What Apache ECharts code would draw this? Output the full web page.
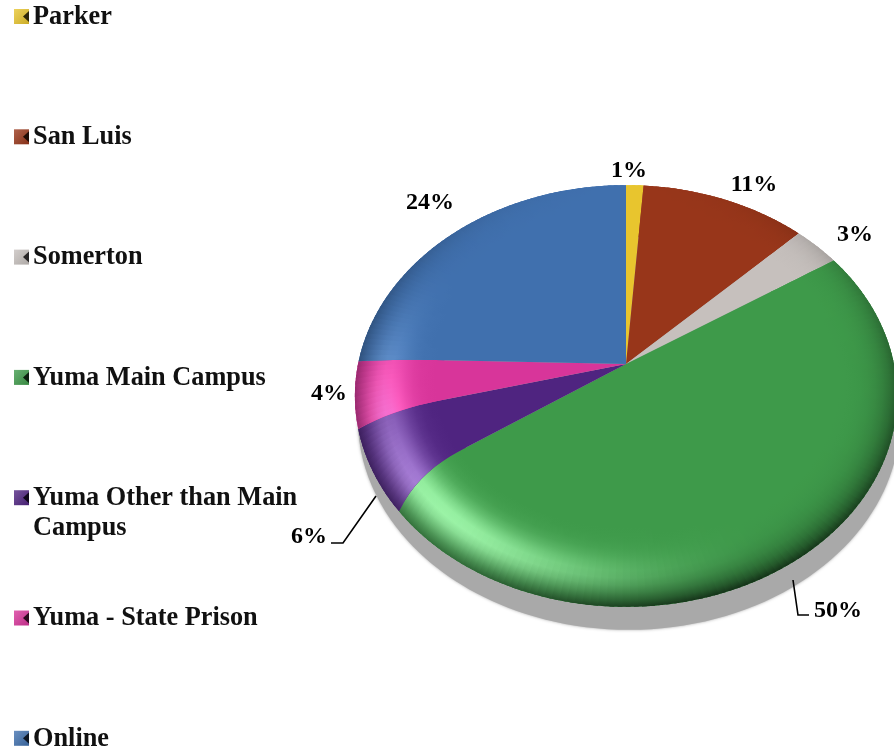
<!DOCTYPE html>
<html>
<head>
<meta charset="utf-8">
<style>html,body{margin:0;padding:0;background:#fff}#c{width:894px;height:752px}</style>
<script src="https://cdn.jsdelivr.net/npm/echarts@6/dist/echarts.min.js"></script>
</head>
<body>
<div id="c"></div>
<script>
const categories = ['Parker','San Luis','Somerton','Yuma Main Campus','Yuma Other than Main Campus','Yuma - State Prison','Online'];
const shares = [1.2, 11.4, 3.2, 49.5, 5.5, 4.4, 24.49];
const colors = ['#e8c52e','#98361a','#c6c0bd','#3e9a4a','#4f2480','#d8359a','#4070ae'];

const FONT = '"Liberation Serif", serif';
const PIE = {cx:626, cy:364, rx:268, ry:206, k:0.1517, shadowDx:3, shadowDy:23};
const labelPos = [[629,171],[754,185],[855,235],[838,611],[309,537],[329,394],[430,203]];
const leaders = {3:[[793,580],[798,615],[809,615]], 4:[[376,496],[343,543],[331,543]]};
const legendLines = [['Parker'],['San Luis'],['Somerton'],['Yuma Main Campus'],['Yuma Other than Main','Campus'],['Yuma - State Prison'],['Online']];
const legendTop = 16, legendStep = 120.3;
const DEG = Math.PI/180;

// the bevel bends slice edges close to the rim on the lower left
function bend(theta,r){
  const g = Math.exp(-Math.pow((theta/DEG-236)/25,2));
  const s = Math.pow(Math.min(1,Math.max(0,(r-0.70)/0.30)),2);
  return theta - 6*DEG*g*s;
}
function project(theta, r, dx, dy){
  const th = bend(theta,r);
  const px = r*Math.sin(th), py = -r*Math.cos(th);
  const d = 1 - PIE.k*py;
  return [PIE.cx + (dx||0) + PIE.rx*px/d, PIE.cy + (dy||0) + PIE.ry*py/d];
}
function rgb(hex){const n=parseInt(hex.slice(1),16);return [n>>16&255,n>>8&255,n&255];}
function mix(hex, target, a){
  return 'rgb('+rgb(hex).map((v,i)=>Math.round(v+(target[i]-v)*a)).join(',')+')';
}
function shade(hex, theta, t){
  const hl = Math.pow(Math.max(0, Math.cos(theta - 225*DEG)), 3);
  const bump = Math.exp(-Math.pow((t-0.66)/0.25, 2));
  const lower = (1 - Math.cos(theta))/2;
  const edge = Math.pow(t, 5) * lower * (1 - 0.45*hl) * 0.72;
  const add = 100*hl*bump;
  return 'rgb('+rgb(hex).map(v=>Math.round(Math.min(255,v+add)*(1-edge))).join(',')+')';
}
const total = shares.reduce((a,b)=>a+b,0);
let acc = 0;
const spans = shares.map(v=>{const s=acc; acc+=v; return [s/total*2*Math.PI, acc/total*2*Math.PI];});

function sector(i){
  const [a,b] = spans[i], col = colors[i], kids = [];
  const steps = Math.max(2, Math.ceil((b-a)/(1.5*DEG)));
  const da = (b-a)/steps, R0 = 0.68, segs = 10;
  const base = [project(0,0)];
  for(let q=0;q<=segs;q++) base.push(project(a,R0+(1-R0)*q/segs));
  for(let s=1;s<=steps;s++) base.push(project(a+da*s,1));
  for(let q=segs;q>=0;q--) base.push(project(b,R0+(1-R0)*q/segs));
  kids.push({type:'polygon',shape:{points:base},silent:true,style:{fill:col}});
  for(let s=0;s<steps;s++){
    const t0=a+da*s,t1=Math.min(b,t0+da*1.6),mid=t0+da/2;
    const p0=project(mid,R0),p1=project(mid,1);
    const stops=[];
    for(let q=0;q<=12;q++) stops.push({offset:q/12,color:shade(col,mid,q/12)});
    const grad={type:'linear',global:true,x:p0[0],y:p0[1],x2:p1[0],y2:p1[1],colorStops:stops};
    const pts=[];
    for(let q=0;q<=segs;q++) pts.push(project(t0,R0+(1-R0)*q/segs));
    for(let q=segs;q>=0;q--) pts.push(project(t1,R0+(1-R0)*q/segs));
    kids.push({type:'polygon',silent:true,shape:{points:pts},style:{fill:grad}});
  }
  return kids;
}
function shadowSeries(){
  return {type:'custom',name:'shadow',coordinateSystem:'none',silent:true,z:1,data:[1],
    renderItem(){
      const pts=[];
      for(let d=0;d<360;d+=2) pts.push(project(d*DEG,1,PIE.shadowDx,PIE.shadowDy));
      return {type:'polygon',shape:{points:pts},silent:true,style:{fill:'#a9a9a9',shadowBlur:3,shadowColor:'#a9a9a9'}};
    }};
}
const sliceSeries = categories.map((name,i)=>({
  type:'custom',name,coordinateSystem:'none',silent:true,z:2+i,data:[shares[i]],
  renderItem(){ return {type:'group',children:sector(i)}; }
}));
const labelSeries = {type:'custom',name:'labels',coordinateSystem:'none',silent:true,z:20,data:shares,
  renderItem(p,api){
    const i=p.dataIndex, kids=[{type:'text',silent:true,style:{x:labelPos[i][0],y:labelPos[i][1],text:Math.round(api.value(0))+'%',
      font:'bold 24px '+FONT,fill:'#000',align:'center',verticalAlign:'middle'}}];
    if(leaders[i]) kids.push({type:'polyline',silent:true,shape:{points:leaders[i]},style:{fill:'none',stroke:'#000',lineWidth:1.6}});
    return {type:'group',children:kids};
  }};

const legendGraphics = [];
legendLines.forEach((lines,i)=>{
  const y = legendTop + legendStep*i, col = colors[i];
  legendGraphics.push({type:'rect',silent:true,shape:{x:14,y:y-7,width:15,height:15},
    style:{fill:{type:'linear',x:0,y:0,x2:1,y2:1,colorStops:[{offset:0,color:mix(col,[255,255,255],0.22)},{offset:1,color:mix(col,[0,0,0],0.12)}]}}});
  legendGraphics.push({type:'polygon',silent:true,shape:{points:[[29,y-5],[29,y+6],[23,y+0.5]]},style:{fill:mix(col,[0,0,0],0.8)}});
  lines.forEach((t,j)=>legendGraphics.push({type:'text',silent:true,style:{x:33,y:y+1+j*30,text:t,font:'bold 26.3px '+FONT,fill:'#111',align:'left',verticalAlign:'middle'}}));
});

const chart = echarts.init(document.getElementById('c'),null,{renderer:'canvas'});
chart.setOption({animation:false,backgroundColor:'#fff',graphic:legendGraphics,
  series:[shadowSeries(),...sliceSeries,labelSeries]});
</script>
</body>
</html>
